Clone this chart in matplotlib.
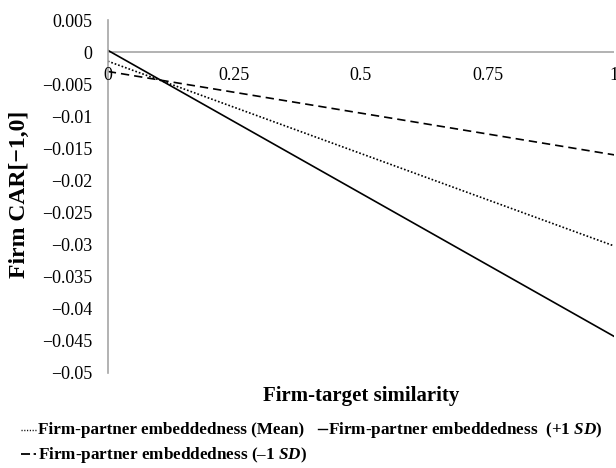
import matplotlib
matplotlib.use("Agg")
import matplotlib.pyplot as plt
from matplotlib.lines import Line2D

plt.rcParams['font.family'] = ['Liberation Serif', 'DejaVu Serif']
plt.rcParams['mathtext.fontset'] = 'custom'
plt.rcParams['mathtext.it'] = 'Liberation Serif:italic:bold'
plt.rcParams['mathtext.rm'] = 'Liberation Serif:bold'

similarity = [0.0, 1.0]
car_mean = [-0.0014, -0.0302]
car_plus1 = [0.0003, -0.0443]
car_minus1 = [-0.0030, -0.0160]
xticks = [0, 0.25, 0.5, 0.75, 1]
xticklabels = ['0', '0.25', '0.5', '0.75', '1']
yticks = [0.005, 0, -0.005, -0.01, -0.015, -0.02, -0.025, -0.03, -0.035, -0.04, -0.045, -0.05]
yticklabels = ['0.005', '0', '\u22120.005', '\u22120.01', '\u22120.015', '\u22120.02', '\u22120.025',
               '\u22120.03', '\u22120.035', '\u22120.04', '\u22120.045', '\u22120.05']

fig = plt.figure(figsize=(6.16, 4.68), dpi=100)
ax = fig.add_axes([0.175, 0.203, 0.822, 0.754])

ax.plot(similarity, car_mean, color='black', lw=1.2, linestyle=(0, (1, 1.2)))
ax.plot(similarity, car_plus1, color='black', lw=1.2, linestyle='-')
ax.plot(similarity, car_minus1, color='black', lw=1.2, linestyle=(0, (5, 3)))
ax.axhline(0, color='#a6a6a6', lw=1.2, zorder=0)

ax.set_xlim(0, 1)
ax.set_ylim(-0.05, 0.005)
ax.set_yticks(yticks)
ax.set_yticklabels(yticklabels, fontsize=13)
ax.set_xticks([])
for t, lab in zip(xticks, xticklabels):
    ax.text(t, -0.0037, lab, ha='center', va='center', fontsize=13, clip_on=False)

for s in ['top', 'right', 'bottom']:
    ax.spines[s].set_visible(False)
ax.spines['left'].set_color('#a6a6a6')
ax.spines['left'].set_linewidth(1.2)
ax.tick_params(axis='y', length=0, pad=11)

fig.text(0.031, 0.585, 'Firm CAR[\u22121,0]', rotation=90, ha='center', va='center',
         fontsize=17, fontweight='bold')
fig.text(0.587, 0.154, 'Firm-target similarity', ha='center', va='center',
         fontsize=15, fontweight='bold')

# legend
y1 = 1 - 430 / 468
y2 = 1 - 455 / 468
fs = 12.3
fig.add_artist(Line2D([21 / 616, 36 / 616], [y1 + 0.001, y1 + 0.001], color='black', lw=1.0,
                      linestyle=(0, (0.8, 1.2)), transform=fig.transFigure))
fig.text(38 / 616, y1, 'Firm-partner embeddedness (Mean)', ha='left', va='center',
         fontsize=fs, fontweight='bold')
fig.add_artist(Line2D([318 / 616, 327 / 616], [y1 + 0.002, y1 + 0.002], color='black', lw=1.0,
                      transform=fig.transFigure))
fig.text(328 / 616, y1, 'Firm-partner embeddedness  (+1 $\\mathit{SD}$)', ha='left', va='center',
         fontsize=fs, fontweight='bold')
fig.add_artist(Line2D([21 / 616, 36 / 616], [y2 + 0.002, y2 + 0.002], color='black', lw=1.3,
                      linestyle=(0, (5, 2, 3, 2, 1, 2)), transform=fig.transFigure))
fig.text(38 / 616, y2, 'Firm-partner embeddedness (\u20131 $\\mathit{SD}$)', ha='left', va='center',
         fontsize=fs, fontweight='bold')

fig.savefig('out.png', dpi=100)
